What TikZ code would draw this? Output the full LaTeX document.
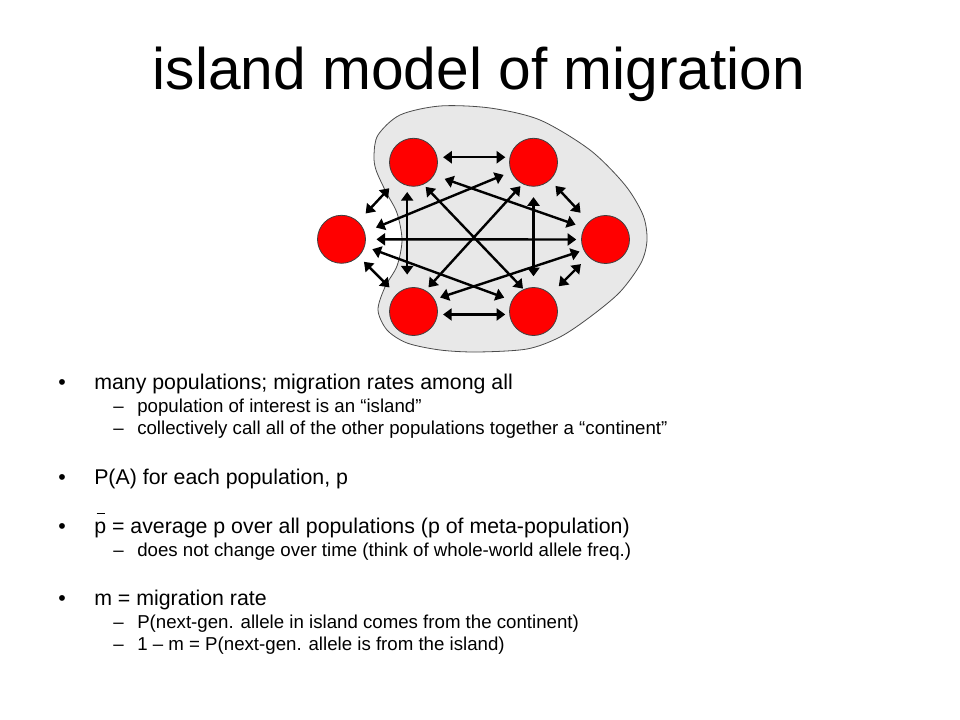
\documentclass[tikz,border=0pt]{standalone}
\usepackage{fontspec}
\setmainfont{Liberation Sans}
\usetikzlibrary{arrows.meta}
% mean allele frequency: p with a short bar set well above it
\newcommand\meanp{\leavevmode\rlap{\hspace{1.8pt}\raisebox{14pt}{\rule{6.2pt}{0.9pt}}}p}
\begin{document}
\begin{tikzpicture}[x=0.75pt,y=-0.75pt,
  pop/.style={circle, draw=black!75, line width=0.6pt, fill=red, minimum size=36pt, inner sep=0pt},
  mig/.style={{Triangle[length=6.5pt,width=9pt]}-{Triangle[length=6.5pt,width=9pt]}, line width=1.8pt, black},
  blob/.style={fill=black!9, draw=black!70, line width=0.6pt},
  title/.style={anchor=base, font=\fontsize{44pt}{48pt}\selectfont, inner sep=0pt},
  bul/.style={anchor=base, font=\fontsize{16pt}{19pt}\selectfont, inner sep=0pt},
  lvlone/.style={anchor=base west, font=\fontsize{16pt}{19pt}\selectfont, inner sep=0pt},
  dsh/.style={anchor=base west, font=\fontsize{14pt}{17pt}\selectfont, inner sep=0pt},
  lvltwo/.style={anchor=base west, font=\fontsize{14pt}{17pt}\selectfont, inner sep=0pt}]
\useasboundingbox (0,0) rectangle (960,720);

% title
\node[title] (ttl) at (479,90) {island model of migration};

% the meta-population region
\draw[blob] plot[smooth cycle] coordinates {
  (378,135) (400,115) (440,106) (490,108) (540,120) (590,150) (625,185)
  (643,215) (647,240) (641,263) (620,292) (590,317) (560,337) (527,349)
  (477,352) (440,350) (407,343) (387,330) (378,310) (385,287) (397,266)
  (402,240) (397,213) (386,192) (376,170) (374,155)};

% populations
\node[pop] (TL) at (413.5,162.3) {};
\node[pop] (TR) at (533.5,162.3) {};
\node[pop] (L)  at (341.5,239.3) {};
\node[pop] (R)  at (605.5,239.5) {};
\node[pop] (BL) at (413.5,311.5) {};
\node[pop] (BR) at (533.5,311.5) {};

% migration between every pair
\draw[mig, shorten <=4.3pt, shorten >=3.2pt] (TL.12) -- (TR.168);
\draw[mig, shorten <=4pt, shorten >=3pt] (BL.-7) -- (BR.-173);
\draw[mig, shorten <=7.9pt, shorten >=3.6pt] (L.east) -- (R.west);
\draw[mig, shorten <=4.6pt, shorten >=10pt] (TL.-105) -- (BL.105);
\draw[mig, shorten <=7.8pt, shorten >=8.1pt] (TR.south) -- (BR.north);
\draw[mig, shorten <=8.3pt, shorten >=8.2pt] (TL) -- (L);
\draw[mig, shorten <=5.5pt, shorten >=7.2pt] (L) -- (BL);
\draw[mig, shorten <=5.9pt, shorten >=9.1pt] (TR) -- (R);
\draw[mig, shorten <=7.8pt, shorten >=8.5pt] (R) -- (BR);
\draw[mig, shorten <=2.4pt, shorten >=0.6pt] (TL.-66) -- (BR.114);
\draw[mig, shorten <=2.2pt, shorten >=3.1pt] (TR.-117) -- (BL.60);
\draw[mig, shorten <=9pt, shorten >=6pt] (L.17) -- (TR.203);
\draw[mig, shorten <=8.3pt, shorten >=6.8pt] (TL.-32) -- (R.151);
\draw[mig, shorten <=6pt, shorten >=6pt] (L.-17) -- (BR.153);
\draw[mig, shorten <=4.3pt, shorten >=3.2pt] (BL.30) -- (R.206);

% notes
\node[bul] (b1) at (62,389) {•};
\node[lvlone] (t1) at (94,389) {many populations; migration rates among all};
\node[dsh] (d1) at (113,412) {–};
\node[lvltwo] (s1) at (137,412) {population of interest is an “island”};
\node[dsh] (d2) at (113,434) {–};
\node[lvltwo] (s2) at (137,434) {collectively call all of the other populations together a “continent”};

\node[bul] (b2) at (62,484) {•};
\node[lvlone] (t2) at (94,484) {P(A) for each population, p};

\node[bul] (b3) at (62,533) {•};
\node[lvlone] (t3) at (94,533) {\meanp{} = average p over all populations (p of meta-population)};
\node[dsh] (d3) at (113,556) {–};
\node[lvltwo] (s3) at (137,556) {does not change over time (think of whole-world allele freq.)};

\node[bul] (b4) at (62,605) {•};
\node[lvlone] (t4) at (94,605) {m = migration rate};
\node[dsh] (d4) at (113,628) {–};
\node[lvltwo] (s4) at (137,628) {P(next-gen. allele in island comes from the continent)};
\node[dsh] (d5) at (113,650) {–};
\node[lvltwo] (s5) at (137,650) {1 – m = P(next-gen. allele is from the island)};
\end{tikzpicture}
\end{document}
